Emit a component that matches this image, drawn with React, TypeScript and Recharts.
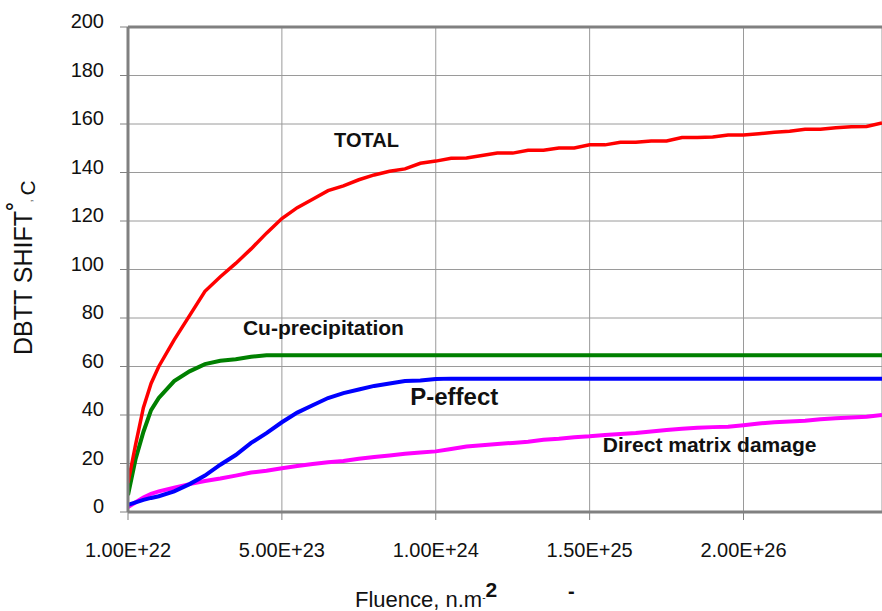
import { LineChart, Line, XAxis, YAxis, CartesianGrid, ReferenceLine, ReferenceDot } from 'recharts'

// position along the (category-style) fluence axis, 1 unit = one labelled tick
const fluencePos = [
  0, 0.05, 0.1, 0.15, 0.2, 0.3, 0.4, 0.5, 0.6, 0.7, 0.8, 0.9, 1.0, 1.1, 1.2, 1.3, 1.4, 1.5, 1.6, 1.7,
  1.8, 1.9, 2.0, 2.1, 2.2, 2.3, 2.4, 2.5, 2.6, 2.7, 2.8, 2.9, 3.0, 3.1, 3.2, 3.3, 3.4, 3.5, 3.6, 3.7,
  3.8, 3.9, 4.0, 4.1, 4.2, 4.3, 4.4, 4.5, 4.6, 4.7, 4.8, 4.9,
]
const xTickLabels = ['1.00E+22', '5.00E+23', '1.00E+24', '1.50E+25', '2.00E+26']
const yTicks = [0, 20, 40, 60, 80, 100, 120, 140, 160, 180, 200]

const total = [
  12, 28, 43, 53, 60, 71, 81, 91, 97, 102.5, 108.5, 115, 121, 125.5, 129, 132.5, 134.5, 137, 139, 140.5,
  141.5, 143.8, 144.7, 145.9, 146, 147, 148, 148, 149.2, 149.2, 150.1, 150.1, 151.4, 151.4, 152.5, 152.5,
  153, 153, 154.4, 154.4, 154.6, 155.5, 155.5, 156, 156.6, 157, 157.8, 157.8, 158.5, 158.9, 159, 160.4,
]
const cuPrecip = [
  7, 22, 33, 42, 47, 54, 58, 61, 62.4, 63, 64, 64.6, 64.6, 64.6, 64.6, 64.6, 64.6, 64.6, 64.6, 64.6,
  64.6, 64.6, 64.6, 64.6, 64.6, 64.6, 64.6, 64.6, 64.6, 64.6, 64.6, 64.6, 64.6, 64.6, 64.6, 64.6,
  64.6, 64.6, 64.6, 64.6, 64.6, 64.6, 64.6, 64.6, 64.6, 64.6, 64.6, 64.6, 64.6, 64.6, 64.6, 64.6,
]
const pEffect = [
  3, 4, 5, 5.8, 6.5, 8.5, 11.5, 15, 19.5, 23.5, 28.5, 32.5, 37, 41, 44, 47, 49, 50.5, 52, 53,
  54, 54.2, 54.8, 55, 55, 55, 55, 55, 55, 55, 55, 55, 55, 55, 55, 55,
  55, 55, 55, 55, 55, 55, 55, 55, 55, 55, 55, 55, 55, 55, 55, 55,
]
const matrixDamage = [
  2, 4, 6, 7.5, 8.5, 10, 11.5, 12.8, 13.8, 15, 16.3, 17, 18, 19, 19.8, 20.5, 21, 22, 22.7, 23.3,
  24, 24.5, 25, 26, 27, 27.5, 28, 28.5, 29, 29.8, 30.2, 30.8, 31.2, 31.8, 32.2, 32.6, 33.2, 33.8,
  34.3, 34.7, 35, 35.2, 35.8, 36.5, 37, 37.3, 37.6, 38.2, 38.7, 39, 39.3, 40,
]

const data = fluencePos.map((x, i) => ({
  x,
  total: total[i],
  cu: cuPrecip[i],
  p: pEffect[i],
  matrix: matrixDamage[i],
}))

const FONT = '"Liberation Sans", Arial, sans-serif'
const AXIS = '#808080'
const GRID = '#9a9a9a'

function YTick({ x, y, payload }: any) {
  return (
    <text x={x} y={y - 4} textAnchor="end" dominantBaseline="middle" fontSize={20} fill="#111" fontFamily={FONT}>
      {payload.value}
    </text>
  )
}

function XTick({ x, y, payload }: any) {
  return (
    <text x={x} y={y + 30} textAnchor="middle" dominantBaseline="middle" fontSize={20} fill="#111" fontFamily={FONT}>
      {xTickLabels[payload.value]}
    </text>
  )
}

const note = (value: string, size: number) => ({
  value,
  position: 'center' as const,
  fill: '#111',
  fontSize: size,
  fontWeight: 'bold',
  fontFamily: FONT,
})

export default function App() {
  return (
    <div style={{ position: 'absolute', left: 0, top: 0, width: 882, height: 611, background: '#fff', fontFamily: FONT }}>
      <LineChart width={882} height={611} data={data} margin={{ top: 27, right: 0, left: 0, bottom: 39 }}>
        <CartesianGrid stroke={GRID} strokeWidth={1} />
        <XAxis
          dataKey="x"
          type="number"
          domain={[0, 4.9]}
          ticks={[0, 1, 2, 3, 4]}
          height={60}
          axisLine={{ stroke: AXIS, strokeWidth: 3 }}
          tickLine={{ stroke: AXIS, strokeWidth: 1 }}
          tickSize={8}
          tick={<XTick />}
          allowDataOverflow
        />
        <YAxis
          type="number"
          domain={[0, 200]}
          ticks={yTicks}
          width={128}
          axisLine={{ stroke: AXIS, strokeWidth: 3 }}
          tickLine={{ stroke: AXIS, strokeWidth: 1 }}
          tickSize={8}
          tickMargin={16}
          tick={<YTick />}
          interval={0}
        />
        <ReferenceLine y={200} stroke={AXIS} strokeWidth={3} />
        <Line type="linear" dataKey="matrix" stroke="#ff00ff" strokeWidth={4} dot={false} isAnimationActive={false} />
        <Line type="linear" dataKey="p" stroke="#0000ff" strokeWidth={4} dot={false} isAnimationActive={false} />
        <Line type="linear" dataKey="cu" stroke="#008000" strokeWidth={4} dot={false} isAnimationActive={false} />
        <Line type="linear" dataKey="total" stroke="#ff0000" strokeWidth={3.5} dot={false} isAnimationActive={false} />
        <ReferenceDot x={1.55} y={153.3} r={0} stroke="none" label={note('TOTAL', 20)} />
        <ReferenceDot x={1.27} y={76} r={0} stroke="none" label={note('Cu-precipitation', 21)} />
        <ReferenceDot x={2.12} y={47.5} r={0} stroke="none" label={note('P-effect', 24)} />
        <ReferenceDot x={3.78} y={27.7} r={0} stroke="none" label={note('Direct matrix damage', 21)} />
      </LineChart>
      <svg width={882} height={611} style={{ position: 'absolute', left: 0, top: 0, pointerEvents: 'none' }}>
        <text transform="rotate(-90, 32, 355)" x={32} y={355} fontSize={25} fill="#111" fontFamily={FONT}>
          DBTT SHIFT
          <tspan fontWeight="bold" dy={-10} fontSize={22}>°</tspan>
          <tspan dy={10} fontSize={10}>,</tspan>
          <tspan dx={4} dy={3} fontSize={21}>C</tspan>
        </text>
        <text x={355} y={607} fontSize={22} fill="#111" fontFamily={FONT}>
          Fluence, n.m
          <tspan fontSize={10} dy={-6}>-</tspan>
          <tspan fontSize={21} fontWeight="bold" dy={-4}>2</tspan>
        </text>
        <text x={568} y={598} fontSize={20} fontWeight="bold" fill="#111" fontFamily={FONT}>-</text>
      </svg>
    </div>
  )
}
